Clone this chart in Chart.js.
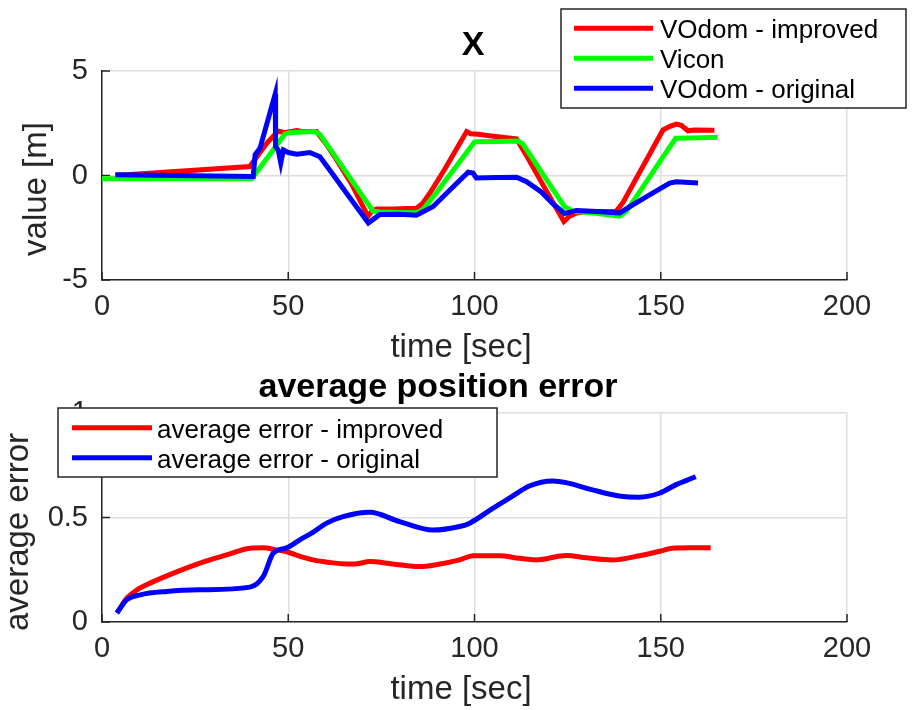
<!DOCTYPE html>
<html>
<head>
<meta charset="utf-8">
<script src="https://cdn.jsdelivr.net/npm/chart.js@4.4.1/dist/chart.umd.min.js"></script>
<style>
html, body { margin: 0; padding: 0; background: #fff; }
#divPosicionX { position: absolute; left: 0; top: 0; width: 912px; height: 375px; }
#divErrorPromedio { position: absolute; left: 0; top: 360px; width: 912px; height: 350px; }
</style>
</head>
<body>
<div id="divPosicionX"><canvas id="canvaPosicionX"></canvas></div>
<div id="divErrorPromedio"><canvas id="canvaErrorPromedio"></canvas></div>
<script>
// posicion X (m) vs tiempo (s)
const tiempoMejorado = [3.6, 39.7, 42, 44.5, 47.3, 49, 50.5, 52.3, 54, 57.6, 60, 63, 67, 71.4, 72.5, 73.7, 78, 84.4, 86, 88, 92, 97.9, 99, 101, 104, 108, 111.3, 113.8, 118, 122, 124, 125.5, 127.3, 130, 134, 138, 139.8, 144, 148, 150.6, 152.5, 154.2, 155.5, 157.3, 159, 164.4];
const xMejorado = [0.0, 0.43, 1.0, 1.6, 2.13, 2.05, 2.1, 2.15, 2.1, 2.1, 1.55, 0.75, -0.4, -1.95, -1.7, -1.6, -1.6, -1.57, -1.35, -0.85, 0.3, 2.1, 2.0, 1.97, 1.9, 1.82, 1.75, 1.0, -0.33, -1.58, -2.2, -1.95, -1.8, -1.72, -1.72, -1.71, -1.31, 0.05, 1.34, 2.18, 2.35, 2.46, 2.4, 2.14, 2.18, 2.16];

const tiempoVicon = [0, 40.2, 44, 49.1, 50.4, 54, 57.2, 58.6, 62, 66, 70, 72.8, 74.6, 80, 84.4, 86, 89.7, 94, 100, 100.5, 106, 111.7, 113, 118, 124.1, 126.4, 132, 139, 140.8, 145, 150, 154, 158, 165.3];
const xVicon = [-0.16, -0.16, 0.75, 1.99, 2.05, 2.08, 2.1, 1.94, 1.07, 0.04, -1.0, -1.71, -1.75, -1.77, -1.78, -1.65, -0.84, 0.18, 1.6, 1.62, 1.63, 1.65, 1.5, 0.16, -1.48, -1.71, -1.8, -1.95, -1.71, -0.6, 0.72, 1.78, 1.8, 1.83];

const tiempoOriginal = [3.6, 40.6, 41.1, 42.4, 46.5, 46.6, 47.3, 48, 48.7, 50, 52.3, 55.8, 58.5, 62, 66, 71.5, 72.8, 74.6, 80, 84.4, 88.9, 94, 98.3, 99.6, 100.5, 106, 111.3, 114, 118, 121, 124.2, 127.3, 133, 139, 142.5, 147, 152.4, 154.2, 160];
const xOriginal = [0.03, -0.05, 1.0, 1.3, 3.9, 1.38, 1.22, 0.6, 1.22, 1.1, 1.02, 1.1, 0.9, 0.05, -0.93, -2.27, -2.1, -1.87, -1.85, -1.9, -1.48, -0.59, 0.16, 0.12, -0.12, -0.1, -0.08, -0.3, -0.8, -1.35, -1.82, -1.67, -1.72, -1.79, -1.4, -0.93, -0.36, -0.3, -0.36];

// error promedio vs tiempo (s)
const tiempoErrMejorado = [4, 6.7, 9.5, 12.9, 19.2, 26.3, 33.5, 39.7, 43.3, 46.9, 49.6, 53, 56.7, 61, 65.6, 68, 71.9, 78, 85.3, 90, 96, 99.6, 106.7, 112, 116.5, 124.6, 130, 137, 144.2, 150, 153.1, 158, 163.4];
const errMejorado = [0.043, 0.115, 0.155, 0.186, 0.234, 0.282, 0.321, 0.353, 0.355, 0.345, 0.336, 0.315, 0.297, 0.285, 0.278, 0.278, 0.289, 0.278, 0.265, 0.275, 0.297, 0.317, 0.317, 0.305, 0.297, 0.318, 0.307, 0.297, 0.317, 0.34, 0.353, 0.355, 0.355];

const tiempoErrOriginal = [4, 6.7, 10.3, 17.4, 26.3, 39.7, 43.3, 46, 49.6, 53.1, 56.7, 60.3, 64.7, 71.9, 79.9, 88.8, 96, 98.7, 104.9, 110, 114.7, 121, 124.6, 131.7, 138.8, 144.2, 149.6, 154, 159.4];
const errOriginal = [0.043, 0.107, 0.13, 0.146, 0.154, 0.167, 0.218, 0.33, 0.355, 0.393, 0.43, 0.473, 0.504, 0.525, 0.48, 0.44, 0.457, 0.473, 0.544, 0.6, 0.651, 0.675, 0.667, 0.632, 0.603, 0.597, 0.616, 0.656, 0.695];

const ticksTiempo = [0, 50, 100, 150, 200];

const FUENTE = "'Liberation Sans', Arial, Helvetica, sans-serif";
const COLOR_EJE = '#262626';

function puntos(tiempos, valores) {
    return tiempos.map((t, i) => ({ x: t, y: valores[i] }));
}

// ejes estilo matlab: ticks hacia adentro, titulos, etiquetas y leyenda encima
const pluginMatlab = {
    id: 'matlab',
    beforeDatasetsDraw(chart) {
        const { ctx, chartArea, scales } = chart;
        ctx.save();
        ctx.strokeStyle = COLOR_EJE;
        ctx.lineWidth = 1.5;
        scales.x.ticks.forEach((t) => {
            const px = scales.x.getPixelForValue(t.value);
            ctx.beginPath();
            ctx.moveTo(px, chartArea.bottom);
            ctx.lineTo(px, chartArea.bottom - 8);
            ctx.stroke();
        });
        scales.y.ticks.forEach((t) => {
            const py = scales.y.getPixelForValue(t.value);
            ctx.beginPath();
            ctx.moveTo(chartArea.left, py);
            ctx.lineTo(chartArea.left + 8, py);
            ctx.stroke();
        });
        ctx.restore();
    },
    afterDraw(chart, args, opts) {
        const ctx = chart.ctx;
        ctx.save();
        ctx.textBaseline = 'alphabetic';

        // titulo
        ctx.fillStyle = '#000';
        ctx.font = 'bold 34px ' + FUENTE;
        ctx.textAlign = 'center';
        ctx.fillText(opts.titulo, opts.tituloX, opts.tituloY);

        // etiquetas de ejes
        ctx.fillStyle = COLOR_EJE;
        ctx.font = '33px ' + FUENTE;
        ctx.fillText(opts.etiquetaX, opts.etiquetaXPos[0], opts.etiquetaXPos[1]);
        ctx.save();
        ctx.translate(opts.etiquetaYPos[0], opts.etiquetaYPos[1]);
        ctx.rotate(-Math.PI / 2);
        ctx.fillText(opts.etiquetaY, 0, 0);
        ctx.restore();

        // leyenda
        const c = opts.leyenda;
        ctx.fillStyle = '#fff';
        ctx.fillRect(c.x, c.y, c.w, c.h);
        ctx.strokeStyle = COLOR_EJE;
        ctx.lineWidth = 1.5;
        ctx.strokeRect(c.x, c.y, c.w, c.h);
        ctx.font = '26px ' + FUENTE;
        ctx.textAlign = 'left';
        chart.data.datasets.forEach((ds, i) => {
            const yLinea = c.primeraLinea + i * c.paso;
            ctx.strokeStyle = ds.borderColor;
            ctx.lineWidth = 5;
            ctx.beginPath();
            ctx.moveTo(c.lineaX0, yLinea);
            ctx.lineTo(c.lineaX1, yLinea);
            ctx.stroke();
            ctx.fillStyle = '#000';
            ctx.fillText(ds.label, c.textoX, yLinea + 10);
        });
        ctx.restore();
    }
};

function opcionesEjes(yMin, yMax, yPaso, alturaX) {
    return {
        x: {
            type: 'linear',
            min: 0,
            max: 200,
            afterBuildTicks: (s) => { s.ticks = ticksTiempo.map((v) => ({ value: v })); },
            afterFit: (s) => { s.height = alturaX; },
            grid: { color: '#dedede', lineWidth: 1.5, drawTicks: false },
            border: { color: COLOR_EJE, width: 1.5 },
            ticks: {
                color: COLOR_EJE,
                padding: 10,
                maxRotation: 0,
                font: { family: FUENTE, size: 29, lineHeight: 1.2 }
            }
        },
        y: {
            type: 'linear',
            min: yMin,
            max: yMax,
            afterFit: (s) => { s.width = 102; },
            grid: { color: '#dedede', lineWidth: 1.5, drawTicks: false },
            border: { color: COLOR_EJE, width: 1.5 },
            ticks: {
                stepSize: yPaso,
                color: COLOR_EJE,
                padding: 14,
                callback: (v) => String(v),
                font: { family: FUENTE, size: 29, lineHeight: 1.2 }
            }
        }
    };
}

const chartPosicionX = new Chart(document.getElementById('canvaPosicionX'), {
    type: 'line',
    plugins: [pluginMatlab],
    data: {
        datasets: [
            { label: 'VOdom - improved', data: puntos(tiempoMejorado, xMejorado), borderColor: '#ff0000', order: 3 },
            { label: 'Vicon', data: puntos(tiempoVicon, xVicon), borderColor: '#00ff00', order: 2 },
            { label: 'VOdom - original', data: puntos(tiempoOriginal, xOriginal), borderColor: '#0000ff', order: 1 }
        ]
    },
    options: {
        responsive: true,
        maintainAspectRatio: false,
        animation: false,
        devicePixelRatio: 1,
        layout: { padding: { left: 0, right: 65, top: 71, bottom: 0 } },
        datasets: { line: { borderWidth: 5, pointRadius: 0, fill: false, tension: 0 } },
        scales: opcionesEjes(-5, 5, 5, 95),
        plugins: {
            legend: { display: false },
            tooltip: { enabled: false },
            matlab: {
                titulo: 'X', tituloX: 473, tituloY: 55,
                etiquetaX: 'time [sec]', etiquetaXPos: [461, 357],
                etiquetaY: 'value [m]', etiquetaYPos: [46, 189],
                leyenda: { x: 561, y: 9, w: 345, h: 99, lineaX0: 574, lineaX1: 653, textoX: 660, primeraLinea: 28.3, paso: 30 }
            }
        }
    }
});

const chartErrorPromedio = new Chart(document.getElementById('canvaErrorPromedio'), {
    type: 'line',
    plugins: [pluginMatlab],
    data: {
        datasets: [
            { label: 'average error - improved', data: puntos(tiempoErrMejorado, errMejorado), borderColor: '#ff0000', order: 2 },
            { label: 'average error - original', data: puntos(tiempoErrOriginal, errOriginal), borderColor: '#0000ff', order: 1 }
        ]
    },
    options: {
        responsive: true,
        maintainAspectRatio: false,
        animation: false,
        devicePixelRatio: 1,
        layout: { padding: { left: 0, right: 65, top: 53, bottom: 0 } },
        datasets: { line: { borderWidth: 5, pointRadius: 0, fill: false, cubicInterpolationMode: 'monotone' } },
        scales: opcionesEjes(0, 1, 0.5, 88),
        plugins: {
            legend: { display: false },
            tooltip: { enabled: false },
            matlab: {
                titulo: 'average position error', tituloX: 438, tituloY: 37,
                etiquetaX: 'time [sec]', etiquetaXPos: [461, 339],
                etiquetaY: 'average error', etiquetaYPos: [28, 172],
                leyenda: { x: 58, y: 48, w: 439, h: 69, lineaX0: 72, lineaX1: 152, textoX: 157, primeraLinea: 67.7, paso: 30 }
            }
        }
    }
});
</script>
</body>
</html>
